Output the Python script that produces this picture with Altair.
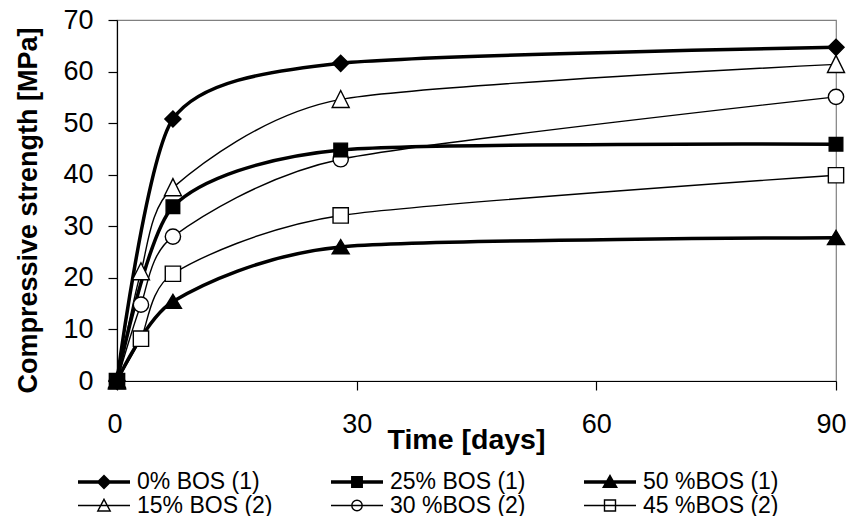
import altair as alt
import pandas as pd

# ---- data ----
series_names = ["15% BOS (2)", "30 %BOS (2)", "45 %BOS (2)",
                "0% BOS (1)", "50 %BOS (1)", "25% BOS (1)"]
legend_order = ["0% BOS (1)", "25% BOS (1)", "50 %BOS (1)",
                "15% BOS (2)", "30 %BOS (2)", "45 %BOS (2)"]

days_1 = [0, 7, 28, 90]
days_2 = [0, 3, 7, 28, 90]

bos0_1 = [0, 50.8, 61.6, 64.7]
bos25_1 = [0, 33.8, 44.8, 45.9]
bos50_1 = [0, 15.4, 26.0, 27.8]
bos15_2 = [0, 21.2, 37.5, 54.6, 61.4]
bos30_2 = [0, 14.8, 28.0, 43.0, 55.1]
bos45_2 = [0, 8.2, 20.8, 32.1, 39.9]

values = {
    "15% BOS (2)": (days_2, bos15_2),
    "30 %BOS (2)": (days_2, bos30_2),
    "45 %BOS (2)": (days_2, bos45_2),
    "0% BOS (1)": (days_1, bos0_1),
    "50 %BOS (1)": (days_1, bos50_1),
    "25% BOS (1)": (days_1, bos25_1),
}

rows = []
for name in series_names:
    ds, vs = values[name]
    for d, v in zip(ds, vs):
        rows.append({"series": name, "t": d, "v": v,
                     "group": "thick" if name.endswith("(1)") else "thin"})
df = pd.DataFrame(rows)

# ---- styling ----
FONT = "Liberation Sans"
thick, thin = 3.5, 1.4
TENSION = 0.3

def circ(r):
    k = round(0.5523 * r, 4)
    return (f"M{r},0C{r},{k} {k},{r} 0,{r}C{-k},{r} {-r},{k} {-r},0"
            f"C{-r},{-k} {-k},{-r} 0,{-r}C{k},{-r} {r},{-k} {r},0Z")

marker_paths = {
    "0% BOS (1)": "M0,-0.95L0.95,0L0,0.95L-0.95,0Z",
    "25% BOS (1)": "M-0.8,-0.8L0.8,-0.8L0.8,0.8L-0.8,0.8Z",
    "50 %BOS (1)": "M0,-0.85L1,0.8L-1,0.8Z",
    "15% BOS (2)": "M0,-1.05L1,0.95L-1,0.95Z",
    "30 %BOS (2)": circ(0.9),
    "45 %BOS (2)": "M-0.9,-0.9L0.9,-0.9L0.9,0.9L-0.9,0.9Z",
}
line = "M-2.6,0L2.6,0"
legend_paths = {
    "0% BOS (1)": line + "M0,-0.5L0.5,0L0,0.5L-0.5,0Z",
    "25% BOS (1)": line + "M-0.42,-0.42L0.42,-0.42L0.42,0.42L-0.42,0.42Z",
    "50 %BOS (1)": line + "M0,-0.45L0.5,0.42L-0.5,0.42Z",
    "15% BOS (2)": line + "M0,-0.62L0.62,0.55L-0.62,0.55Z",
    "30 %BOS (2)": line + circ(0.52),
    "45 %BOS (2)": line + "M-0.55,-0.55L0.55,-0.55L0.55,0.55L-0.55,0.55Z",
}
fills = {n: ("black" if n.endswith("(1)") else "white") for n in legend_order}
widths = {n: (thick if n.endswith("(1)") else thin) for n in legend_order}

x_enc = alt.X("t:Q", scale=alt.Scale(domain=[0, 90], nice=False),
              axis=alt.Axis(values=[0, 30, 60, 90], title="Time [days]",
                            titleX=349, titleY=44, titleBaseline="top",
                            titleAnchor="middle", titleFontSize=28.5,
                            labelPadding=21, labelFlush=True,
                            labelFlushOffset=10))
y_enc = alt.Y("v:Q", scale=alt.Scale(domain=[0, 70], nice=False),
              axis=alt.Axis(values=[0, 10, 20, 30, 40, 50, 60, 70],
                            title="Compressive strength [MPa]",
                            titleX=-75, titleY=190, titleBaseline="bottom",
                            labelPadding=15, labelFlush=False))

thin_lines = alt.Chart(df).transform_filter("datum.group == 'thin'").mark_line(
    interpolate="cardinal", tension=TENSION, color="black",
    strokeWidth=thin).encode(x=x_enc, y=y_enc, detail="series:N")

thick_lines = alt.Chart(df).transform_filter("datum.group == 'thick'").mark_line(
    interpolate="cardinal", tension=TENSION, color="black",
    strokeWidth=thick).encode(x="t:Q", y="v:Q", detail="series:N")

points = alt.Chart(df).mark_point(filled=True, opacity=1, stroke="black",
                                  strokeWidth=1.4, size=289).encode(
    x="t:Q", y="v:Q",
    shape=alt.Shape("series:N", legend=None,
                    scale=alt.Scale(domain=legend_order,
                                    range=[marker_paths[n] for n in legend_order])),
    fill=alt.Fill("series:N", legend=None,
                  scale=alt.Scale(domain=legend_order,
                                  range=[fills[n] for n in legend_order])),
)

leg = alt.Legend(title=None, orient="none", legendX=-25, legendY=450,
                 direction="horizontal",
                 columns=3, columnPadding=51, rowPadding=-3, symbolSize=400,
                 labelFont=FONT, labelFontSize=23, labelColor="black",
                 labelOffset=21, padding=0, labelLimit=400)

legend_layer = alt.Chart(df).transform_filter("datum.t < 0").mark_point(
    filled=True, opacity=1, stroke="black").encode(
    x="t:Q", y="v:Q",
    stroke=alt.value("black"),
    shape=alt.Shape("series:N", legend=leg,
                    scale=alt.Scale(domain=legend_order,
                                    range=[legend_paths[n] for n in legend_order])),
    fill=alt.Fill("series:N", legend=leg,
                  scale=alt.Scale(domain=legend_order,
                                  range=[fills[n] for n in legend_order])),
    strokeWidth=alt.StrokeWidth("series:N", legend=leg,
                                scale=alt.Scale(type="ordinal", domain=legend_order,
                                                range=[widths[n] for n in legend_order])),
)

chart = alt.layer(thin_lines, thick_lines, points, legend_layer).resolve_scale(
    shape="independent", fill="independent", strokeWidth="independent"
).properties(
    width=719, height=361,
    autosize=alt.AutoSizeParams(type="none"),
    padding={"left": 109, "top": 12, "right": 10, "bottom": 135},
    background="white",
).configure_view(
    stroke="#808080", strokeWidth=1.2
).configure_axis(
    grid=False, domainColor="black", domainWidth=1.2, tickColor="black",
    tickSize=9, tickWidth=1.2, labelFont=FONT, labelFontSize=27,
    labelColor="black", titleFont=FONT, titleFontSize=27,
    titleFontWeight="bold", titleColor="black",
)

chart.save("out.html", embed_options={"renderer": "svg", "actions": False})
